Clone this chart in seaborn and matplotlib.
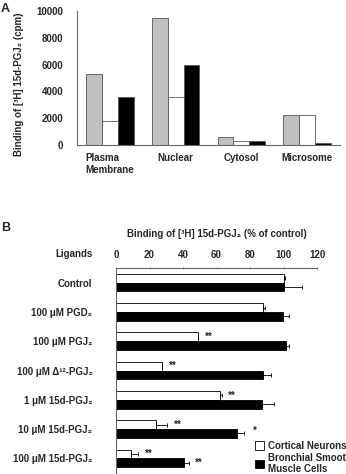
import pandas as pd
import seaborn as sns
import matplotlib.pyplot as plt
from matplotlib.ticker import FixedLocator

# Panel A data
fractions = ['Plasma\nMembrane', 'Nuclear', 'Cytosol', 'Microsome']
series_a = ['s1', 's2', 's3']
vals_s1 = [5300, 9500, 600, 2250]
vals_s2 = [1800, 3550, 300, 2250]
vals_s3 = [3550, 6000, 280, 120]

# Panel B data
ligands = ['Control', '100 μM PGD₂', '100 μM PGJ₂', '100 μM Δ¹²-PGJ₂',
           '1 μM 15d-PGJ₂', '10 μM 15d-PGJ₂', '100 μM 15d-PGJ₂']
neurons = [100, 88, 49, 27.6, 62, 24, 8.8]
neurons_err = [1, 1, 0, 0, 1, 6.5, 4.3]
smooth = [100, 99.5, 101.5, 88, 87, 72.4, 40.6]
smooth_err = [11, 3.5, 1.5, 4.4, 7.3, 4, 2.8]
neurons_sig = ['', '', '**', '**', '**', '**', '**']
smooth_sig = ['', '', '', '', '', '', '**']
cells = ['Cortical Neurons', 'Bronchial Smooth\nMuscle Cells']

sns.set_style('white')
plt.rcParams['font.family'] = ['Liberation Sans', 'DejaVu Sans']
plt.rcParams['font.weight'] = 'bold'
plt.rcParams['axes.labelweight'] = 'bold'

fig = plt.figure(figsize=(3.46, 4.74), dpi=100)

# ---- Panel A ----
axA = fig.add_axes([77/346, 1-145/474, 263/346, 134/474])
dfA = pd.DataFrame({
    'fraction': fractions * 3,
    'series': [s for s in series_a for _ in fractions],
    'value': vals_s1 + vals_s2 + vals_s3,
})
sns.barplot(data=dfA, x='fraction', y='value', hue='series', order=fractions,
            hue_order=series_a, palette={'s1': '#c0c0c0', 's2': 'white', 's3': 'black'},
            width=0.72, edgecolor='#555555', linewidth=0.6, errorbar=None,
            legend=False, ax=axA)
axA.set_ylim(0, 10000)
axA.set_yticks(range(0, 10001, 2000))
axA.set_xlim(-0.5, 3.5)
axA.tick_params(axis='y', labelsize=7, length=0, pad=10)
axA.tick_params(axis='x', labelsize=7, length=0, pad=6)
axA.xaxis.set_minor_locator(FixedLocator([-0.5, 0.5, 1.5, 2.5, 3.5]))
axA.tick_params(axis='x', which='minor', length=3, color='#666666', width=0.6)
for lbl in axA.get_xticklabels():
    lbl.set_multialignment('left')
axA.set_xlabel('')
axA.set_ylabel('Binding of [³H] 15d-PGJ₂ (cpm)', fontsize=7)
axA.yaxis.set_label_coords(-0.2, 0.45)
for s in ['top', 'right']:
    axA.spines[s].set_visible(False)
for s in ['left', 'bottom']:
    axA.spines[s].set_color('#666666')
    axA.spines[s].set_linewidth(0.8)
fig.text(0.002, 1-9/474, 'A', fontsize=9, fontweight='bold', va='center')

# ---- Panel B ----
axB = fig.add_axes([116/346, 1-473/474, 201/346, 205/474])
dfB = pd.DataFrame({
    'ligand': ligands * 2,
    'cell': [c for c in cells for _ in ligands],
    'value': neurons + smooth,
})
sns.barplot(data=dfB, y='ligand', x='value', hue='cell', order=ligands,
            hue_order=cells, orient='h', palette={cells[0]: 'white', cells[1]: 'black'},
            width=0.6, edgecolor='black', linewidth=0.6, errorbar=None, ax=axB)

for cont, vals, errs, sig in [(axB.containers[0], neurons, neurons_err, neurons_sig),
                              (axB.containers[1], smooth, smooth_err, smooth_sig)]:
    ys = [p.get_y() + p.get_height() / 2 for p in cont]
    axB.errorbar(vals, ys, xerr=[[0] * len(vals), errs], fmt='none',
                 ecolor='black', elinewidth=0.6, capsize=1.5, capthick=0.6)
    for y, v, e, s in zip(ys, vals, errs, sig):
        if s:
            axB.text(v + e + 4, y, s, fontsize=7, fontweight='bold',
                     ha='left', va='center')
# lone star beside the 10 uM smooth muscle bar
axB.text(82, 5.05, '*', fontsize=7, fontweight='bold', ha='left', va='center')

axB.set_xlim(0, 120)
axB.set_ylim(6.5, -0.5)
axB.xaxis.tick_top()
axB.xaxis.set_label_position('top')
axB.set_xticks(range(0, 121, 20))
axB.tick_params(axis='x', labelsize=7, length=2, direction='inout', pad=5,
                color='#666666', width=0.6)
axB.tick_params(axis='y', labelsize=7, length=0, pad=17)
axB.yaxis.set_minor_locator(FixedLocator([i + 0.5 for i in range(-1, 7)]))
axB.tick_params(axis='y', which='minor', length=3, color='#666666', width=0.6)
axB.set_xlabel('Binding of [³H] 15d-PGJ₂ (% of control)', fontsize=7, labelpad=9)
axB.set_ylabel('')
for s in ['bottom', 'right']:
    axB.spines[s].set_visible(False)
for s in ['left', 'top']:
    axB.spines[s].set_color('#666666')
    axB.spines[s].set_linewidth(0.8)

axB.legend(loc='upper left', bbox_to_anchor=(251/346, 1-437/474),
           bbox_transform=fig.transFigure, frameon=False, fontsize=7,
           handlelength=0.9, handleheight=0.9, handletextpad=0.5,
           labelspacing=0.2, borderaxespad=0)

fig.text(93/346, 1-254/474, 'Ligands', fontsize=7, fontweight='bold',
         ha='right', va='center')
fig.text(0.002, 1-228/474, 'B', fontsize=9, fontweight='bold', va='center')

plt.savefig('out.png', dpi=100)
